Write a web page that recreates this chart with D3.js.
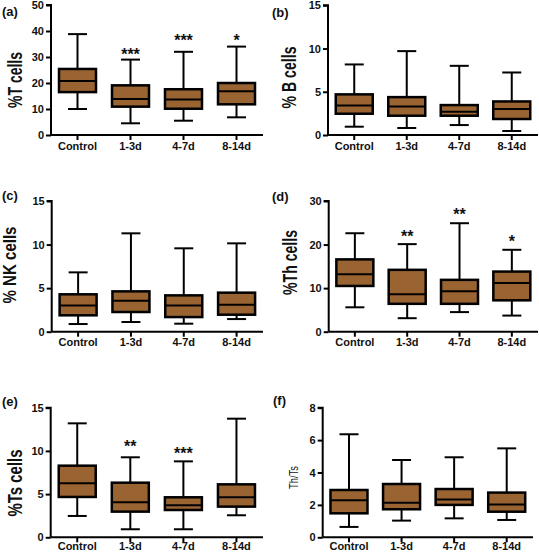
<!DOCTYPE html>
<html><head><meta charset="utf-8">
<script src="https://cdn.jsdelivr.net/npm/d3@7"></script>
<style>body{margin:0;background:#fff}svg{display:block}</style>
</head><body>
<svg id="chart" width="539" height="553"></svg>
<script>
// ---- data ----
const categories = ["Control", "1-3d", "4-7d", "8-14d"];
// each entry: [min, q1, median, q3, max]
const tCells  = [[10.0,16.5,20.8,25.4,38.8],[4.5,10.9,13.8,19.1,29.0],[5.5,10.1,13.7,17.6,32.0],[6.8,11.8,16.8,20.0,34.0]];
const bCells  = [[0.96,2.46,3.42,4.7,8.16],[0.81,2.23,3.31,4.38,9.7],[1.15,2.23,2.69,3.46,8.0],[0.46,1.85,3.0,3.88,7.23]];
const nkCells = [[0.88,1.88,3.02,4.29,6.81],[1.11,2.26,3.56,4.63,11.29],[0.92,1.68,3.02,4.17,9.57],[1.45,1.95,3.1,4.48,10.14]];
const thCells = [[5.6,10.5,13.2,16.6,22.6],[3.1,6.4,8.6,14.2,20.1],[4.5,6.4,9.3,11.9,24.9],[3.7,7.2,11.2,13.8,18.8]];
const tsCells = [[2.47,4.67,6.25,8.29,13.19],[0.93,2.97,4.05,6.32,9.26],[0.93,3.16,3.70,4.63,8.79],[2.55,3.55,4.63,6.13,13.73]];
const thTsRatio = [[0.64,1.48,2.28,2.92,6.36],[1.03,1.73,2.14,3.29,4.77],[1.17,2.0,2.33,2.98,4.94],[1.07,1.58,2.02,2.76,5.49]];
const tTicks  = [0, 10, 20, 30, 40, 50];
const bTicks  = [0, 5, 10, 15];
const nkTicks = [0, 5, 10, 15];
const thTicks = [0, 10, 20, 30];
const tsTicks = [0, 5, 10, 15];
const ratioTicks = [0, 2, 4, 6, 8];
const tStars  = ["", "***", "***", "*"];
const bStars  = ["", "", "", ""];
const nkStars = ["", "", "", ""];
const thStars = ["", "**", "**", "*"];
const tsStars = ["", "**", "***", ""];
const ratioStars = ["", "", "", ""];

// ---- layout ----
const panels = [
  {tag:"(a)", data:tCells, ticks:tTicks, stars:tStars, ylabel:"%T cells", x0:51, x1:263, yTop:5, yBot:135,
   tagX:2, tagY:16, labX:15, labY:80, labLen:56, labSize:20, starY:[0,51,37,37], xPad:2},
  {tag:"(b)", data:bCells, ticks:bTicks, stars:bStars, ylabel:"% B cells", x0:328, x1:538, yTop:5.3, yBot:135,
   tagX:272, tagY:17, labX:289, labY:77.5, labLen:62, labSize:20, xPad:2},
  {tag:"(c)", data:nkCells, ticks:nkTicks, stars:nkStars, ylabel:"% NK cells", x0:51.7, x1:263, yTop:201, yBot:331.7,
   tagX:2, tagY:200, labX:10, labY:265, labLen:77, labSize:18, xPad:2},
  {tag:"(d)", data:thCells, ticks:thTicks, stars:thStars, ylabel:"%Th cells", x0:328.7, x1:538, yTop:201, yBot:331.7,
   tagX:272, tagY:201, labX:290, labY:262.5, labLen:65, labSize:20, starY:[0,233,211,238], xPad:2},
  {tag:"(e)", data:tsCells, ticks:tsTicks, stars:tsStars, ylabel:"%Ts cells", x0:50.7, x1:263, yTop:407.7, yBot:537.3,
   tagX:2, tagY:406, labX:15, labY:483, labLen:67, labSize:20, starY:[0,443,450,0], xPad:0},
  {tag:"(f)", data:thTsRatio, ticks:ratioTicks, stars:ratioStars, ylabel:"Th/Ts", x0:322.7, x1:533, yTop:407.7, yBot:537.3,
   tagX:273, tagY:405, labX:293.5, labY:477.5, labLen:23, labSize:13, labWeight:"normal", xPad:0}
];

const fill = "#9a6332";
const svg = d3.select("#chart");
const FONT = "'Liberation Sans', Arial, sans-serif";

panels.forEach(p => {
  const g = svg.append("g");
  const maxT = p.ticks[p.ticks.length - 1];
  const y = d3.scaleLinear().domain([0, maxT]).range([p.yBot, p.yTop]);
  const x = d3.scaleBand().domain(categories).range([p.x0, p.x1]).paddingInner(0).paddingOuter(0);
  const bw = 37, cw = 19;

  // y axis
  const ya = g.append("g").attr("transform", `translate(${p.x0},0)`)
    .call(d3.axisLeft(y).tickValues(p.ticks).tickSize(5).tickPadding(2));
  ya.select(".domain").attr("stroke", "#000").attr("stroke-width", 2).attr("d", `M-5,${p.yTop}H0V${p.yBot}`);
  ya.selectAll(".tick line").attr("stroke", "#000").attr("stroke-width", 2);
  ya.selectAll(".tick text").attr("font-family", FONT).attr("font-weight", "bold").attr("font-size", 11).attr("fill", "#111");

  // x axis
  const xa = g.append("g").attr("transform", `translate(0,${p.yBot})`)
    .call(d3.axisBottom(x).tickSize(5).tickPadding(p.xPad));
  xa.select(".domain").attr("stroke", "#000").attr("stroke-width", 2).attr("d", `M${p.x0},0H${p.x1}`);
  xa.selectAll(".tick line").attr("stroke", "#000").attr("stroke-width", 2);
  xa.selectAll(".tick text").attr("font-family", FONT).attr("font-weight", "bold").attr("font-size", 11).attr("fill", "#111");

  // boxes
  categories.forEach((c, i) => {
    const [mn, q1, md, q3, mx] = p.data[i];
    const cx = x(c) + x.bandwidth() / 2;
    const bg = g.append("g");
    bg.append("line").attr("x1", cx).attr("x2", cx).attr("y1", y(mx)).attr("y2", y(q3)).attr("stroke", "#000").attr("stroke-width", 2);
    bg.append("line").attr("x1", cx).attr("x2", cx).attr("y1", y(q1)).attr("y2", y(mn)).attr("stroke", "#000").attr("stroke-width", 2);
    bg.append("line").attr("x1", cx - cw/2).attr("x2", cx + cw/2).attr("y1", y(mx)).attr("y2", y(mx)).attr("stroke", "#000").attr("stroke-width", 2);
    bg.append("line").attr("x1", cx - cw/2).attr("x2", cx + cw/2).attr("y1", y(mn)).attr("y2", y(mn)).attr("stroke", "#000").attr("stroke-width", 2);
    bg.append("rect").attr("x", cx - bw/2).attr("width", bw).attr("y", y(q3)).attr("height", y(q1) - y(q3))
      .attr("fill", fill).attr("stroke", "#000").attr("stroke-width", 2.5);
    bg.append("line").attr("x1", cx - bw/2).attr("x2", cx + bw/2).attr("y1", y(md)).attr("y2", y(md)).attr("stroke", "#000").attr("stroke-width", 2);
    if (p.stars[i]) {
      const cy = p.starY ? p.starY[i] : y(mx) - 11.5;
      g.append("text").attr("x", cx).attr("y", cy + 9).attr("text-anchor", "middle")
        .attr("font-family", FONT).attr("font-weight", "bold").attr("font-size", 16).attr("fill", "#111")
        .text(p.stars[i]);
    }
  });

  // y label
  g.append("text").attr("transform", `translate(${p.labX},${p.labY}) rotate(-90)`)
    .attr("text-anchor", "middle").attr("dominant-baseline", "central")
    .attr("font-family", FONT).attr("font-weight", p.labWeight || "bold").attr("font-size", p.labSize)
    .attr("textLength", p.labLen).attr("lengthAdjust", "spacingAndGlyphs").attr("fill", "#111")
    .text(p.ylabel);

  // panel tag
  g.append("text").attr("x", p.tagX).attr("y", p.tagY)
    .attr("font-family", FONT).attr("font-weight", "bold").attr("font-size", 13).attr("fill", "#111")
    .text(p.tag);
});
</script>
</body></html>
